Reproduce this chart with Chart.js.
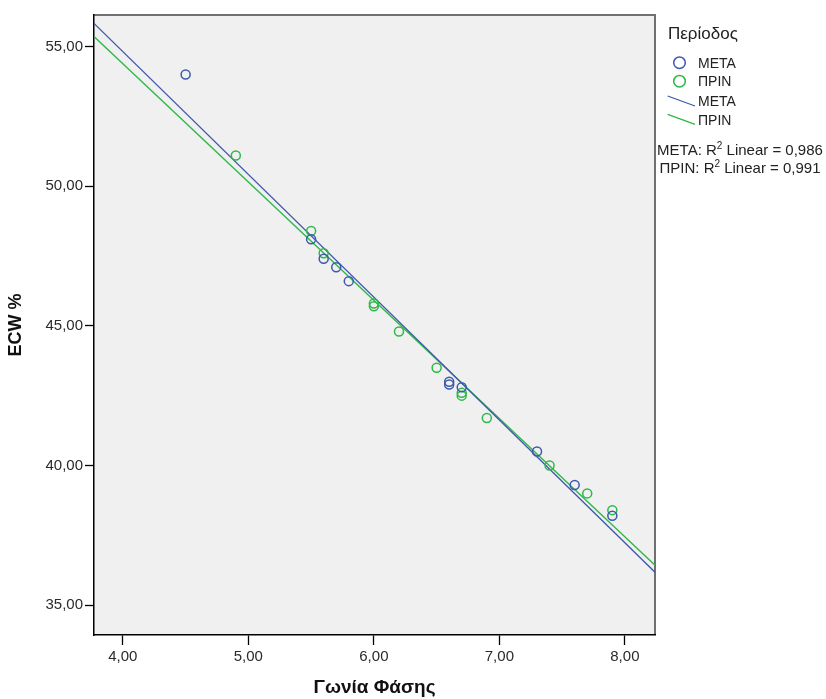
<!DOCTYPE html>
<html>
<head>
<meta charset="utf-8">
<script src="https://cdn.jsdelivr.net/npm/chart.js@4.4.1/dist/chart.umd.min.js"></script>
<style>
  body { margin: 0; background: #fff; font-family: "Liberation Sans", Arial, sans-serif; }
  #wrap { position: relative; width: 826px; height: 699px; }
  #wrap canvas { position: absolute; left: 0; top: 0; }
  .lg { position: absolute; color: #222; white-space: nowrap; line-height: 20px; height: 20px; }
  .lg sup { font-size: 10px; vertical-align: 6px; line-height: 0; }
</style>
</head>
<body>
<div id="wrap">
  <canvas id="chart" width="826" height="699"></canvas>
</div>
<script>
// Scatter data: Γωνία Φάσης (x) vs ECW % (y)
const metaX = [4.5, 5.5, 5.6, 5.7, 5.8, 6.6, 6.6, 6.7, 7.3, 7.6, 7.9];
const metaY = [54.0, 48.1, 47.4, 47.1, 46.6, 43.0, 42.9, 42.8, 40.5, 39.3, 38.2];
const prinX = [4.9, 5.5, 5.6, 6.0, 6.0, 6.2, 6.5, 6.7, 6.7, 6.9, 7.4, 7.7, 7.9];
const prinY = [51.1, 48.4, 47.6, 45.8, 45.7, 44.8, 43.5, 42.6, 42.5, 41.7, 40.0, 39.0, 38.4];

// linear fit lines, y read at the two ends of the x axis
const xMin = 3.77, xMax = 8.24;
const fitX = [xMin, xMax];
const fitMetaY = [55.83, 36.18];
const fitPrinY = [55.36, 36.43];

const groups = ['ΜΕΤΑ', 'ΠΡΙΝ'];
const r2Values = ['0,986', '0,991'];
const xTicks = [4, 5, 6, 7, 8];
const yTicks = [35, 40, 45, 50, 55];

const blue = '#3e58ac';
const green = '#2eb848';

function toPoints(xs, ys) {
    return xs.map((x, i) => ({x: x, y: ys[i]}));
}

function fmt(v) {
    return v.toFixed(2).replace('.', ',');
}

// plot background and top/right frame
const plotFrame = {
    id: 'plotFrame',
    beforeDraw(chart) {
        const a = chart.chartArea, ctx = chart.ctx;
        ctx.save();
        ctx.fillStyle = '#f0f0f0';
        ctx.fillRect(a.left, a.top, a.right - a.left, a.bottom - a.top);
        ctx.strokeStyle = '#707070';
        ctx.lineWidth = 2;
        ctx.beginPath();
        ctx.moveTo(a.left, a.top);
        ctx.lineTo(a.right, a.top);
        ctx.lineTo(a.right, a.bottom);
        ctx.stroke();
        ctx.restore();
    }
};

const ctx = document.getElementById('chart').getContext('2d');
new Chart(ctx, {
    type: 'scatter',
    data: {
        datasets: [
            {
                label: groups[0], data: toPoints(metaX, metaY),
                borderColor: blue, backgroundColor: 'transparent',
                pointRadius: 4.5, borderWidth: 1.5, pointHoverRadius: 4.5
            },
            {
                label: groups[1], data: toPoints(prinX, prinY),
                borderColor: green, backgroundColor: 'transparent',
                pointRadius: 4.5, borderWidth: 1.5, pointHoverRadius: 4.5
            },
            {
                type: 'line', label: groups[0] + ' fit', data: toPoints(fitX, fitMetaY),
                borderColor: blue, borderWidth: 1.3, pointRadius: 0, fill: false
            },
            {
                type: 'line', label: groups[1] + ' fit', data: toPoints(fitX, fitPrinY),
                borderColor: green, borderWidth: 1.3, pointRadius: 0, fill: false
            }
        ]
    },
    options: {
        responsive: false,
        animation: false,
        events: [],
        layout: { padding: { left: 0, right: 171, top: 15, bottom: 0 } },
        plugins: { legend: { display: false }, tooltip: { enabled: false } },
        scales: {
            x: {
                type: 'linear', min: xMin, max: xMax,
                afterBuildTicks: (s) => { s.ticks = xTicks.map(v => ({value: v})); },
                afterFit: (s) => { s.height = 64; },
                grid: { drawOnChartArea: false, drawTicks: true, tickLength: 10, tickColor: '#000', tickWidth: 1.3 },
                border: { display: true, color: '#000', width: 1.5 },
                ticks: { color: '#2a2a2a', padding: 3, font: { family: 'Liberation Sans', size: 15 }, callback: fmt },
                title: {
                    display: true, text: 'Γωνία Φάσης', color: '#111',
                    font: { family: 'Liberation Sans', size: 19, weight: 'bold' }, padding: { top: 0, bottom: 0 }
                }
            },
            y: {
                type: 'linear', min: 33.93, max: 56.13,
                afterBuildTicks: (s) => { s.ticks = yTicks.map(v => ({value: v})); },
                afterFit: (s) => { s.width = 94; },
                grid: { drawOnChartArea: false, drawTicks: true, tickLength: 9, tickColor: '#000', tickWidth: 1.3 },
                border: { display: true, color: '#000', width: 1.5 },
                ticks: { color: '#2a2a2a', padding: 2, font: { family: 'Liberation Sans', size: 15 }, callback: fmt },
                title: {
                    display: true, text: 'ECW %', color: '#111',
                    font: { family: 'Liberation Sans', size: 18, weight: 'bold' }, padding: { top: 5, bottom: 0 }
                }
            }
        }
    },
    plugins: [plotFrame]
});

// legend built as html so the superscript stays real text
var wrap = document.getElementById('wrap');
var colors = [blue, green];
function addText(html, left, top, size) {
    var d = document.createElement('div');
    d.className = 'lg';
    d.style.left = left + 'px';
    d.style.top = top + 'px';
    d.style.fontSize = size + 'px';
    d.innerHTML = html;
    wrap.appendChild(d);
    return d;
}
var svg = '<svg width="40" height="80" style="position:absolute;left:660px;top:50px">';
groups.forEach(function (g, i) {
    svg += '<circle cx="19.5" cy="' + (12.7 + i * 18.5) + '" r="5.8" fill="none" stroke="' + colors[i] + '" stroke-width="1.5"/>';
    svg += '<line x1="7.7" y1="' + (46 + i * 18.3) + '" x2="35" y2="' + (56 + i * 18.3) + '" stroke="' + colors[i] + '" stroke-width="1.3"/>';
});
svg += '</svg>';
wrap.insertAdjacentHTML('beforeend', svg);

addText('Περίοδος', 668, 23.5, 17);
groups.forEach(function (g, i) {
    addText(g, 698, 52.7 + i * 18.5, 14);
    addText(g, 698, 91.3 + i * 18.7, 14);
});
groups.forEach(function (g, i) {
    var d = addText(g + ': R<sup>2</sup> Linear = ' + r2Values[i], 655, 140 + i * 18, 15);
    d.style.width = '170px';
    d.style.textAlign = 'center';
});
</script>
</body>
</html>
